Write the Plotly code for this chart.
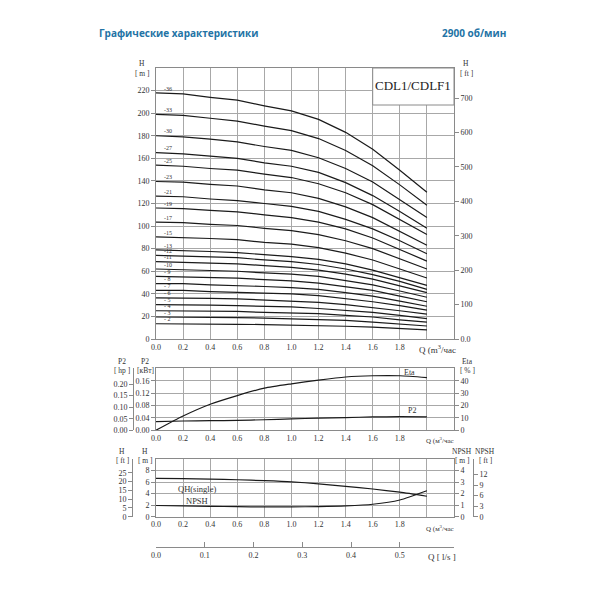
import plotly.graph_objects as go

# flow points, m3/h
q_pts = [0.0, 0.2, 0.4, 0.6, 0.8, 1.0, 1.2, 1.4, 1.6, 1.8, 2.0]

# head per stage count, m
h_s36 = [218, 217, 214, 211.5, 206.5, 202, 194.5, 183, 168, 149.5, 130]
h_s33 = [199, 198, 195.5, 193, 188.5, 184.5, 177.5, 167, 153.5, 136.5, 118.5]
h_s30 = [180, 179, 177, 174.5, 170.5, 167, 160.5, 151, 139, 123.5, 107.5]
h_s27 = [165, 164, 162, 160, 156, 153, 147.5, 138.5, 127, 113, 98]
h_s25 = [154, 153, 151, 149.5, 146, 143, 137.5, 129.5, 119, 106, 92.5]
h_s23 = [139.5, 139, 137, 135.5, 132, 129.5, 124.5, 117, 107.5, 95.5, 83]
h_s21 = [126.5, 126, 124, 122.5, 120, 117.5, 113, 106, 97.5, 87, 75.5]
h_s19 = [116, 115.5, 114, 112.5, 110, 107.5, 103.5, 97.5, 89.5, 79.5, 69]
h_s17 = [103.5, 103, 101.5, 100.5, 98, 96, 92.5, 87, 80, 71, 62]
h_s15 = [90.5, 90, 89, 88, 85.5, 84, 81, 76, 70, 62, 54]
h_s13 = [79, 78.5, 77.5, 76.5, 75, 73, 70.5, 66.5, 61, 54.5, 47.5]
h_s12 = [74, 73.5, 72.5, 72, 70, 68.5, 66, 62, 57, 51, 44]
h_s11 = [68.5, 68, 67.5, 66.5, 65, 63.5, 61, 57.5, 53, 47, 41]
h_s10 = [62, 61.5, 61, 60, 58.5, 57.5, 55.5, 52, 48, 42.5, 37]
h_s9 = [55.5, 55, 54.5, 54, 52.5, 51.5, 49.5, 46.5, 43, 38, 33]
h_s8 = [49, 49, 48, 47.5, 46.5, 45.5, 44, 41, 38, 33.5, 29]
h_s7 = [43, 43, 42, 41.5, 40.5, 40, 38.5, 36, 33, 29.5, 25.5]
h_s6 = [36.5, 36.5, 36, 35.5, 34.5, 34, 32.5, 30.5, 28, 25, 22]
h_s5 = [30.5, 30.5, 30, 29.5, 29, 28.5, 27, 25.5, 23.5, 21, 18]
h_s4 = [25, 25, 24.5, 24.5, 23.5, 23, 22.5, 21, 19.5, 17, 15]
h_s3 = [19.5, 19.5, 19, 19, 18.5, 18, 17.5, 16.5, 15, 13.5, 11.5]
h_s2 = [13.5, 13.5, 13.3, 13, 12.8, 12.5, 12, 11.3, 10.5, 9.3, 8]

stages = [36, 33, 30, 27, 25, 23, 21, 19, 17, 15, 13, 12, 11, 10, 9, 8, 7, 6, 5, 4, 3, 2]
heads = [h_s36, h_s33, h_s30, h_s27, h_s25, h_s23, h_s21, h_s19, h_s17, h_s15, h_s13,
         h_s12, h_s11, h_s10, h_s9, h_s8, h_s7, h_s6, h_s5, h_s4, h_s3, h_s2]

# power (kW) and efficiency (%)
p2_kw = [0.028, 0.030, 0.031, 0.032, 0.034, 0.037, 0.039, 0.041, 0.043, 0.044, 0.0435]
eta_pct = [0, 11.5, 21, 28, 34, 37.5, 40.5, 43, 44, 44, 42.5]

# single stage head (m) and NPSH (m)
qh_single = [6.65, 6.6, 6.5, 6.4, 6.25, 6.05, 5.7, 5.25, 4.8, 4.25, 3.55]
npsh_m = [0.97, 0.94, 0.9, 0.87, 0.85, 0.85, 0.88, 0.94, 1.08, 1.45, 2.25]

q_ticks = [0.0, 0.2, 0.4, 0.6, 0.8, 1.0, 1.2, 1.4, 1.6, 1.8, 2.0]
q_ticktext = ['0.0', '0.2', '0.4', '0.6', '0.8', '1.0', '1.2', '1.4', '1.6', '1.8', '']
ls_ticks = [0.0, 0.1, 0.2, 0.3, 0.4, 0.5]

# the page body adds an 8px margin, so the figure is sized to fit the window
OFF = 8
SIZE = 584


def px(v):
    return (v - OFF) / SIZE


def py(v):
    return 1 - (v - OFF) / SIZE


SERIF = 'Liberation Serif'
GRID = '#a8a8a8'
FRAME = '#8a8a8a'
INK = '#1a1a1a'
TXT = '#333333'
tickfont = dict(family=SERIF, size=8, color=TXT)

X_DOM = [px(156), px(454)]
TOP = [py(339), py(68)]
MID = [py(430.3), py(368.3)]
BOT = [py(516.7), py(459)]

fig = go.Figure()

for n, h in zip(stages, heads):
    fig.add_trace(go.Scatter(x=q_pts, y=h, mode='lines', line=dict(color=INK, width=1.2),
                             xaxis='x', yaxis='y', hoverinfo='skip', showlegend=False))

fig.add_trace(go.Scatter(x=q_pts, y=eta_pct, mode='lines', line=dict(color=INK, width=1.2, shape='spline', smoothing=0.6),
                         xaxis='x2', yaxis='y4', showlegend=False))
fig.add_trace(go.Scatter(x=q_pts, y=p2_kw, mode='lines', line=dict(color=INK, width=1.2, shape='spline', smoothing=0.6),
                         xaxis='x2', yaxis='y3', showlegend=False))
fig.add_trace(go.Scatter(x=q_pts, y=qh_single, mode='lines', line=dict(color=INK, width=1.2, shape='spline', smoothing=0.6),
                         xaxis='x3', yaxis='y6', showlegend=False))
fig.add_trace(go.Scatter(x=q_pts, y=npsh_m, mode='lines', line=dict(color=INK, width=1.2, shape='spline', smoothing=0.6),
                         xaxis='x3', yaxis='y7', showlegend=False))

# dummy traces so the extra scale axes get drawn
for xa, ya in [('x', 'y2'), ('x2', 'y5'), ('x3', 'y8'), ('x3', 'y9'), ('x4', 'y6')]:
    fig.add_trace(go.Scatter(x=[0], y=[0], mode='markers', marker=dict(opacity=0), xaxis=xa, yaxis=ya,
                             hoverinfo='skip', showlegend=False))


def q_axis(anchor):
    return dict(domain=X_DOM, range=[0, 2.2], anchor=anchor, tickvals=q_ticks, ticktext=q_ticktext,
                showgrid=True, gridcolor=GRID, gridwidth=1, showline=True, mirror=True, linecolor=FRAME,
                ticks='', zeroline=False, tickfont=tickfont, automargin=False)


def main_y(dom, rng, vals, text, anchor):
    return dict(domain=dom, range=rng, anchor=anchor, tickvals=vals, ticktext=text, showgrid=True,
                gridcolor=GRID, gridwidth=1, showline=True, mirror=True, linecolor=FRAME, ticks='outside',
                ticklen=4, tickcolor=FRAME, zeroline=False, tickfont=tickfont, automargin=False)


def side_y(over, rng, vals, text, side='right', anchor=None, pos=None, line=False):
    d = dict(overlaying=over, side=side, range=rng, tickvals=vals, ticktext=text, showgrid=False,
             ticks='outside', ticklen=4, tickcolor=FRAME, zeroline=False, tickfont=tickfont,
             showline=line, linecolor=FRAME, automargin=False)
    if pos is not None:
        d['anchor'] = 'free'
        d['position'] = pos
    else:
        d['anchor'] = anchor
    return d


fig.update_layout(
    width=SIZE, height=SIZE, margin=dict(l=0, r=0, t=0, b=0, autoexpand=False),
    paper_bgcolor='white', plot_bgcolor='white', showlegend=False,
    xaxis=q_axis('y'),
    xaxis2=q_axis('y3'),
    xaxis3=q_axis('y6'),
    xaxis4=dict(overlaying='x3', anchor='free', position=py(547.3), range=[0, 2.2 / 3.6],
                tickvals=ls_ticks + [2.2 / 3.6], ticktext=['0.0', '0.1', '0.2', '0.3', '0.4', '0.5', ''],
                showgrid=False, showline=True, linecolor=FRAME, ticks='inside', ticklen=5, tickcolor=FRAME,
                zeroline=False, tickfont=tickfont, automargin=False),
    yaxis=main_y(TOP, [0, 240], list(range(0, 240, 20)), [str(v) for v in range(0, 240, 20)], 'x'),
    yaxis2=side_y('y', [0, 240 / 0.3048], list(range(0, 800, 100)),
                  ['0.0'] + [str(v) for v in range(100, 800, 100)], anchor='x'),
    yaxis3=main_y(MID, [0, 0.2], [0, 0.04, 0.08, 0.12, 0.16], ['0.00', '0.04', '0.08', '0.12', '0.16'], 'x2'),
    yaxis4=side_y('y3', [0, 50], [0, 10, 20, 30, 40], ['0', '10', '20', '30', '40'], anchor='x2'),
    yaxis5=side_y('y3', [0, 0.2 * 1.341], [0, 0.05, 0.10, 0.15, 0.20], ['0.00', '0.05', '0.10', '0.15', '0.20'],
                  side='left', pos=px(133), line=True),
    yaxis6=main_y(BOT, [0, 10], [0, 2, 4, 6, 8], ['0', '2', '4', '6', '8'], 'x3'),
    yaxis7=side_y('y6', [0, 5], [0, 1, 2, 3, 4], ['0', '1', '2', '3', '4'], anchor='x3'),
    yaxis8=side_y('y6', [0, 10 / 0.3048], [0, 5, 10, 15, 20, 25], ['0', '5', '10', '15', '20', '25'],
                  side='left', pos=px(132), line=True),
    yaxis9=side_y('y6', [0, 5 / 0.3048], [0, 3, 6, 9, 12], ['0', '3', '6', '9', '12'],
                  side='right', pos=px(473), line=True),
)

ann = []


def label(x, y, text, size=8, xanchor='center', family=SERIF, color=TXT, xref='paper', yref='paper'):
    ann.append(dict(x=x, y=y, xref=xref, yref=yref, text=text, showarrow=False, xanchor=xanchor,
                    yanchor='middle', font=dict(family=family, size=size, color=color)))


# header
label(px(97), py(33), '<b>Графические характеристики</b>', size=10, xanchor='left', family='Open Sans', color='#2373a5')
label(px(508), py(33), '<b>2900 об/мин</b>', size=10, xanchor='right', family='Open Sans', color='#2373a5')

# axis titles
for x, y, t in [(142, 64, 'H'), (142, 73.5, '[ m ]'), (466, 64, 'H'), (466, 73.5, '[ ft ]'),
                (122, 361, 'P2'), (122, 370.5, '[ hp ]'), (145, 361, 'P2'), (145, 370.5, '[кВт]'),
                (467, 361, 'Eta'), (467, 370.5, '[ % ]'),
                (122, 451, 'H'), (122, 460.5, '[ ft ]'), (145, 451, 'H'), (145, 460.5, '[ m ]'),
                (462, 451, 'NPSH'), (462, 460.5, '[ m ]'), (485, 451, 'NPSH'), (485, 460.5, '[ ft ]')]:
    label(px(x), py(y), t, size=7.5)

label(px(417), py(349), 'Q (m<sup>3</sup>/час', size=9, xanchor='left')
label(px(424), py(440), 'Q (м<sup>3</sup>/час', size=7, xanchor='left')
label(px(424), py(528), 'Q (м<sup>3</sup>/час', size=7, xanchor='left')
label(px(442), py(557), 'Q [ l/s ]', size=9)

# model box
label(px(413), py(86), 'CDL1/CDLF1', size=13, color='#222222')

# curve labels
for n, h in zip(stages, heads):
    t = f'-{n}' if n >= 10 else f'- {n}'
    label(0.085, h[0] + 3.8, t, size=6, xref='x', yref='y')

label(1.87, 46.5, 'Eta', size=8, xref='x2', yref='y4')
label(1.89, 16, 'P2', size=8, xref='x2', yref='y4')
label(0.3, 4.8, 'QH(single)', size=8.5, xref='x3', yref='y6')
label(0.3, 2.7, 'NPSH', size=8.5, xref='x3', yref='y6')

fig.update_layout(annotations=ann)

fig.add_shape(type='rect', xref='paper', yref='paper', x0=px(372.7), x1=px(454), y0=py(105), y1=py(68),
              fillcolor='white', line=dict(color=FRAME, width=1), layer='above')

fig.write_html("out.html")
